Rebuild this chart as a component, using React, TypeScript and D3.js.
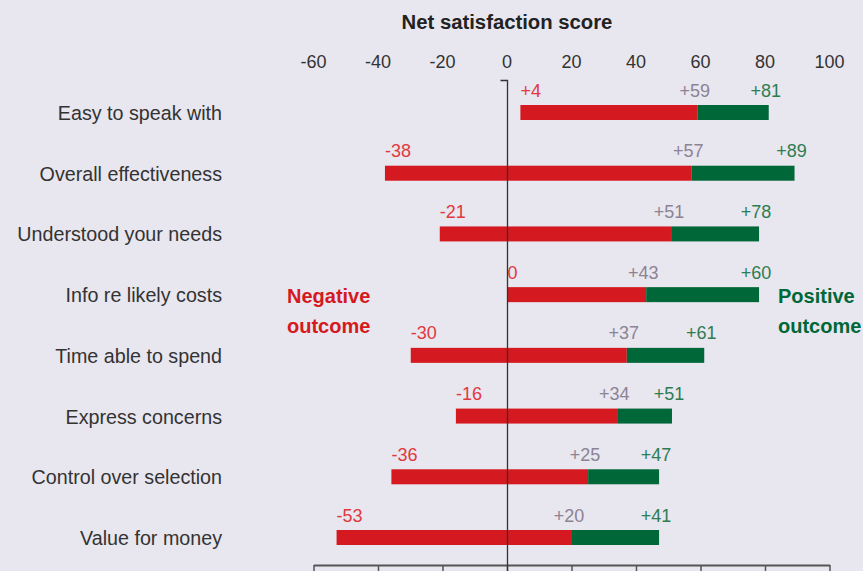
import React from "react";
import * as d3 from "d3";

const categories = [
  "Easy to speak with",
  "Overall effectiveness",
  "Understood your needs",
  "Info re likely costs",
  "Time able to spend",
  "Express concerns",
  "Control over selection",
  "Value for money",
];
const negativeStart = [4, -38, -21, 0, -30, -16, -36, -53];
const midValue = [59, 57, 51, 43, 37, 34, 25, 20];
const positiveEnd = [81, 89, 78, 78, 61, 51, 47, 47];
const negativeLabels = ["+4", "-38", "-21", "0", "-30", "-16", "-36", "-53"];
const midLabels = ["+59", "+57", "+51", "+43", "+37", "+34", "+25", "+20"];
const positiveLabels = ["+81", "+89", "+78", "+60", "+61", "+51", "+47", "+41"];
const tickValues = [-60, -40, -20, 0, 20, 40, 60, 80, 100];

const W = 863;
const H = 571;
const FONT = "'Liberation Sans', Arial, Helvetica, sans-serif";
const BG = "#e8e6ee";
const RED = "#d51920";
const GREEN = "#006838";
const RED_T = "#e0393e";
const GRAY_T = "#8c8394";
const GREEN_T = "#2e7d52";

export default function App() {
  const x = d3.scaleLinear().domain([-60, 100]).range([314, 830]);
  const y = d3.scalePoint<string>().domain(categories).range([112.5, 537.5]);
  const barH = 15;
  const x0 = x(0);

  return (
    <svg
      width={W}
      height={H}
      style={{ position: "absolute", left: 0, top: 0, background: BG, fontFamily: FONT }}
    >
      <rect x={0} y={0} width={W} height={H} fill={BG} />
      <text x={507} y={29} textAnchor="middle" fontSize={20.3} fontWeight="bold" fill="#222">
        Net satisfaction score
      </text>
      {tickValues.map((t) => (
        <text key={"tl" + t} x={x(t) - 0.5} y={67.5} textAnchor="middle" fontSize={18} fill="#333">
          {t}
        </text>
      ))}
      {/* bottom axis */}
      <line x1={x(-60)} x2={x(100)} y1={565.5} y2={565.5} stroke="#555" strokeWidth={2} />
      {tickValues.map((t) => (
        <line key={"tk" + t} x1={x(t)} x2={x(t)} y1={565} y2={571} stroke="#555" strokeWidth={1.5} />
      ))}
      {categories.map((c, i) => {
        const cy = y(c) as number;
        const top = cy - barH / 2;
        return (
          <g key={c}>
            <text x={222} y={cy + 7.5} textAnchor="end" fontSize={19.7} fill="#333">
              {c}
            </text>
            <rect x={x(negativeStart[i])} y={top} width={x(midValue[i]) - x(negativeStart[i])} height={barH} fill={RED} />
            <rect x={x(midValue[i])} y={top} width={x(positiveEnd[i]) - x(midValue[i])} height={barH} fill={GREEN} />
            <text x={x(negativeStart[i])} y={top - 8.5} textAnchor="start" fontSize={18} fill={RED_T}>
              {negativeLabels[i]}
            </text>
            <text x={x(midValue[i]) - 3} y={top - 8.5} textAnchor="middle" fontSize={18} fill={GRAY_T}>
              {midLabels[i]}
            </text>
            <text x={x(positiveEnd[i]) - 3} y={top - 8.5} textAnchor="middle" fontSize={18} fill={GREEN_T}>
              {positiveLabels[i]}
            </text>
          </g>
        );
      })}
      {/* zero line with top bracket */}
      <path d={`M${x0 - 7},80.5 H${x0} V${H}`} fill="none" stroke="#333" strokeWidth={1.3} />
      <text x={287} y={303} fontSize={20} fontWeight="bold" fill={RED}>Negative</text>
      <text x={287} y={333} fontSize={20} fontWeight="bold" fill={RED}>outcome</text>
      <text x={778} y={303} fontSize={20} fontWeight="bold" fill={GREEN}>Positive</text>
      <text x={778} y={333} fontSize={20} fontWeight="bold" fill={GREEN}>outcome</text>
    </svg>
  );
}
